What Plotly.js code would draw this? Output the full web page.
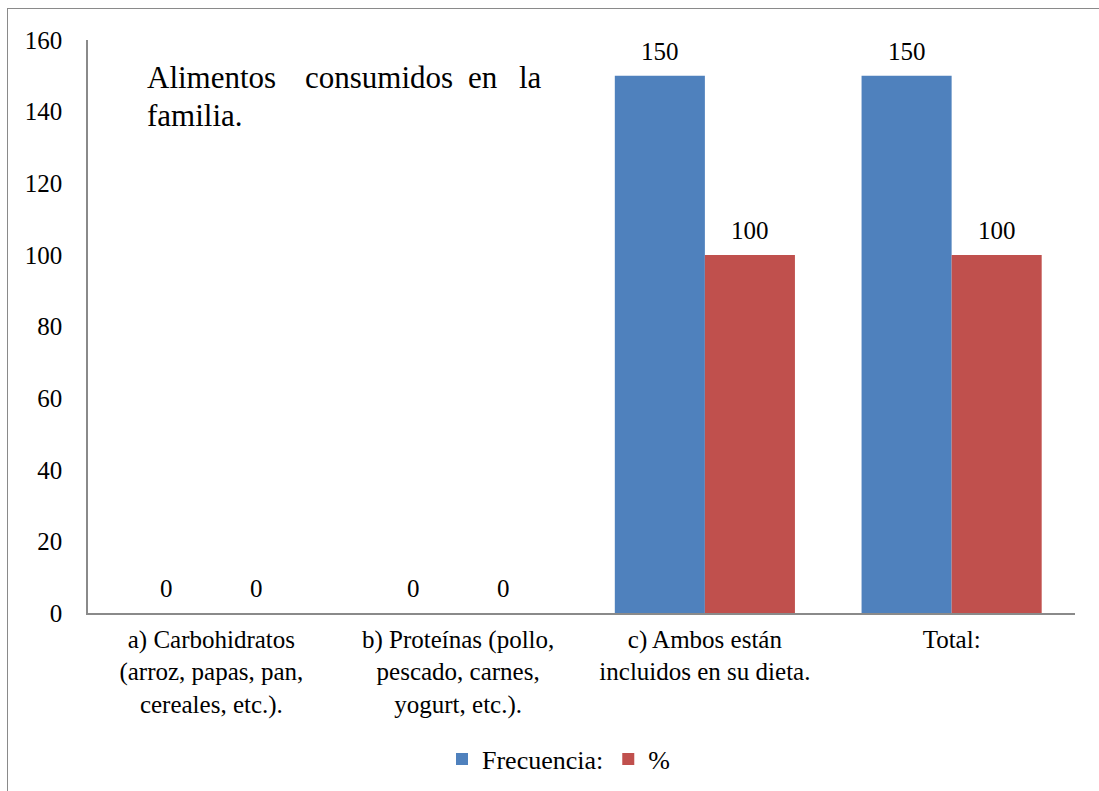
<!DOCTYPE html>
<html>
<head>
<meta charset="utf-8">
<script src="https://cdn.plot.ly/plotly-3.0.1.min.js"></script>
<style>
  html, body { margin: 0; padding: 0; background: #ffffff; overflow: hidden; }
  #chart { position: absolute; left: 0; top: 0; width: 1099px; height: 791px; }
  #frame { position: absolute; left: 7px; top: 8px; width: 1095px; height: 800px;
           border: 1.5px solid #8a8a8a; box-sizing: border-box; pointer-events: none; }
</style>
</head>
<body>
<div id="chart"></div>
<div id="frame"></div>
<script>
const categories = [
  "a) Carbohidratos<br>(arroz, papas, pan,<br>cereales, etc.).",
  "b) Proteínas (pollo,<br>pescado, carnes,<br>yogurt, etc.).",
  "c) Ambos están<br>incluidos en su dieta.",
  "Total:"
];
const frecuencia = [0, 0, 150, 150];
const porcentaje = [0, 0, 100, 100];
const seriesNames = ["Frecuencia:", "%"];
const yTicks = [0, 20, 40, 60, 80, 100, 120, 140, 160];
const titleWords = ["Alimentos", "consumidos", "en", "la"];
const titleLine2 = "familia.";

const FONT = "Liberation Serif";

const traces = [
  {
    type: "bar", name: seriesNames[0], x: categories, y: frecuencia,
    marker: {color: "#4F81BD"}, hoverinfo: "none"
  },
  {
    type: "bar", name: seriesNames[1], x: categories, y: porcentaje,
    marker: {color: "#C0504D"}, hoverinfo: "none"
  }
];

const L = 88, R = 1075, T = 40, B = 613;
const pw = R - L, ph = B - T;
const barHalf = (pw / categories.length) * (1 - 0.27) / 4; // centre offset of each bar in a group

const annotations = [];
// value labels above bars (placed through the axes' scales)
[frecuencia, porcentaje].forEach((vals, s) => {
  vals.forEach((v, i) => {
    annotations.push({
      text: String(v), xref: "x", yref: "y", x: categories[i], y: v,
      xshift: (s === 0 ? -1 : 1) * barHalf, yshift: 9,
      xanchor: "center", yanchor: "bottom", showarrow: false,
      font: {family: FONT, size: 25, color: "#000"}
    });
  });
});

// justified title, word by word
const wordX = [145, 303, 466, 517];
titleWords.forEach((w, i) => annotations.push({
  text: w, xref: "paper", yref: "paper",
  x: (wordX[i] - L) / pw, y: (B - 97) / ph,
  xanchor: "left", yanchor: "bottom", showarrow: false,
  font: {family: FONT, size: 31, color: "#000"}
}));
annotations.push({
  text: titleLine2, xref: "paper", yref: "paper",
  x: (145 - L) / pw, y: (B - 135) / ph,
  xanchor: "left", yanchor: "bottom", showarrow: false,
  font: {family: FONT, size: 31, color: "#000"}
});

const layout = {
  width: 1099, height: 791,
  margin: {l: L, r: 1099 - R, t: T, b: 791 - B, pad: 0, autoexpand: false},
  paper_bgcolor: "#fff", plot_bgcolor: "#fff",
  font: {family: FONT, size: 25, color: "#000"},
  barmode: "group", bargap: 0.27, bargroupgap: 0,
  showlegend: true,
  legend: {
    orientation: "h", xref: "paper", yref: "paper",
    x: (442 - L) / pw, y: (B - 759) / ph, xanchor: "left", yanchor: "middle",
    font: {family: FONT, size: 26, color: "#000"},
    itemwidth: 30, bgcolor: "rgba(0,0,0,0)", traceorder: "normal"
  },
  xaxis: {
    type: "category", showline: true, linecolor: "#8a8a8a", linewidth: 1.5,
    ticks: "", showgrid: false, zeroline: false, ticklabelstandoff: 3, automargin: false,
    tickfont: {family: FONT, size: 25, color: "#000"}
  },
  yaxis: {
    range: [0, 160], tickmode: "array", tickvals: yTicks, ticktext: yTicks.map(String),
    showline: true, linecolor: "#8a8a8a", linewidth: 1.5, ticks: "",
    showgrid: false, zeroline: false, ticklabelstandoff: 19, automargin: false,
    tickfont: {family: FONT, size: 25, color: "#000"}
  },
  annotations: annotations
};

Plotly.newPlot("chart", traces, layout, {displayModeBar: false});
</script>
</body>
</html>
